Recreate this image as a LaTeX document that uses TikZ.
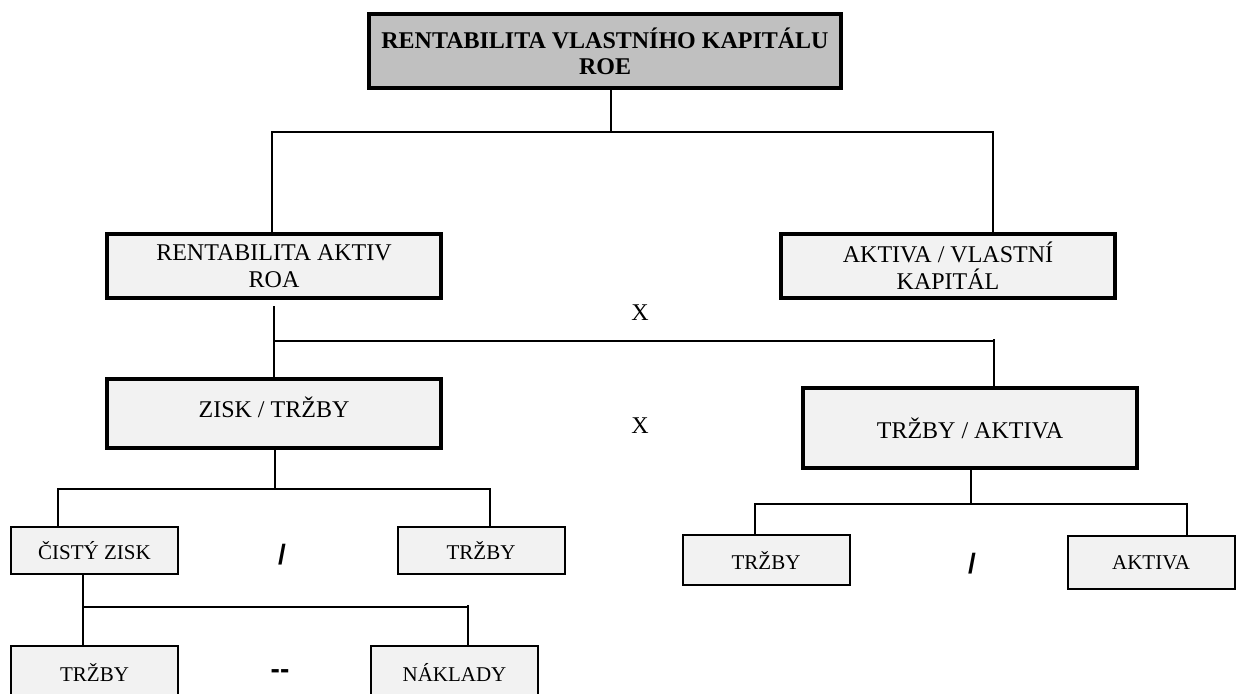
\documentclass[tikz,border=0pt]{standalone}
\usepackage{fontspec}
\setmainfont{Liberation Serif}
\newfontfamily\opfont{Liberation Sans}
\definecolor{topgray}{RGB}{192,192,192}
\definecolor{boxgray}{RGB}{242,242,242}

\begin{document}
\begin{tikzpicture}[
    x=0.5pt, y=-0.5pt,
    txt/.style={font=\fontsize{12}{13.5}\selectfont, align=center},
    main/.style={txt, draw, line width=2pt, fill=boxgray, inner sep=0pt, minimum width=167pt, minimum height=32pt},
    sub/.style={draw, line width=1pt, fill=boxgray, inner sep=0pt, align=center, font=\fontsize{10.5}{12}\selectfont, minimum width=83.5pt, minimum height=23.5pt},
    link/.style={line width=1pt},
    op/.style={font=\opfont\bfseries\fontsize{14}{16}\selectfont}
]
\useasboundingbox (0,0) rectangle (1241,693);
\clip (0,0) rectangle (1241,693);

\node[main, fill=topgray, font=\bfseries\fontsize{12}{13}\selectfont, minimum width=236pt, minimum height=37pt] (roe) at (605,51) {RENTABILITA VLASTNÍHO KAPITÁLU\\ROE};

\node[main] (roa) at (274,266) {RENTABILITA AKTIV\\ROA};
\node[main] (akv) at (948,266) {AKTIVA / VLASTNÍ\\KAPITÁL};

\node[main, minimum height=34.5pt] (zisk) at (274,413.5) {\raisebox{3pt}[\height][\depth]{ZISK / TRŽBY}};
\node[main, minimum height=40pt] (tra) at (970,428) {TRŽBY / AKTIVA};

\node[sub] (cz) at (94.5,550.5) {ČISTÝ ZISK};
\node[sub] (tr1) at (481,550.5) {TRŽBY};
\node[sub, minimum height=25pt] (tr2) at (766,560) {TRŽBY};
\node[sub, minimum height=26.5pt] (akt) at (1151,562.5) {AKTIVA};

\node[sub, minimum height=26pt] (tr3) at (94.5,672) {TRŽBY};
\node[sub, minimum height=26pt] (nak) at (454.5,672) {NÁKLADY};

\node[txt] (x1) at (640,313) {X};
\node[txt] (x2) at (640,426) {X};
\node[op] (d1) at (282,555) {/};
\node[op] (d2) at (972,564) {/};
\node[op] (m1) at (280,674) {-{}-};

\coordinate (b1) at (611,132);
\coordinate (b1l) at (272,132);
\coordinate (b1r) at (993,132);
\draw[link] (roe.south -| b1) -- (b1);
\draw[link] (roa.north -| b1l) -- (b1l) -- (b1r) -- (akv.north -| b1r);

\coordinate (b2t) at (274,306);
\coordinate (b2l) at (274,341);
\coordinate (b2r) at (994,341);
\draw[link] (b2t) -- (zisk.north -| b2t);
\draw[link] (b2l) -- (b2r);
\draw[link] ([yshift=1pt]b2r) -- (tra.north -| b2r);

\coordinate (b3l) at (58,489);
\coordinate (b3) at (275,489);
\coordinate (b3r) at (490,489);
\draw[link] (zisk.south -| b3) -- (b3);
\draw[link] (cz.north -| b3l) -- (b3l) -- (b3r) -- (tr1.north -| b3r);

\coordinate (b4l) at (755,504);
\coordinate (b4) at (971,504);
\coordinate (b4r) at (1187,504);
\draw[link] (tra.south -| b4) -- (b4);
\draw[link] (tr2.north -| b4l) -- (b4l) -- (b4r) -- (akt.north -| b4r);

\coordinate (b5l) at (83,607);
\coordinate (b5r) at (468,607);
\draw[link] (cz.south -| b5l) -- (tr3.north -| b5l);
\draw[link] (b5l) -- (b5r);
\draw[link] ([yshift=1pt]b5r) -- (nak.north -| b5r);
\end{tikzpicture}
\end{document}
